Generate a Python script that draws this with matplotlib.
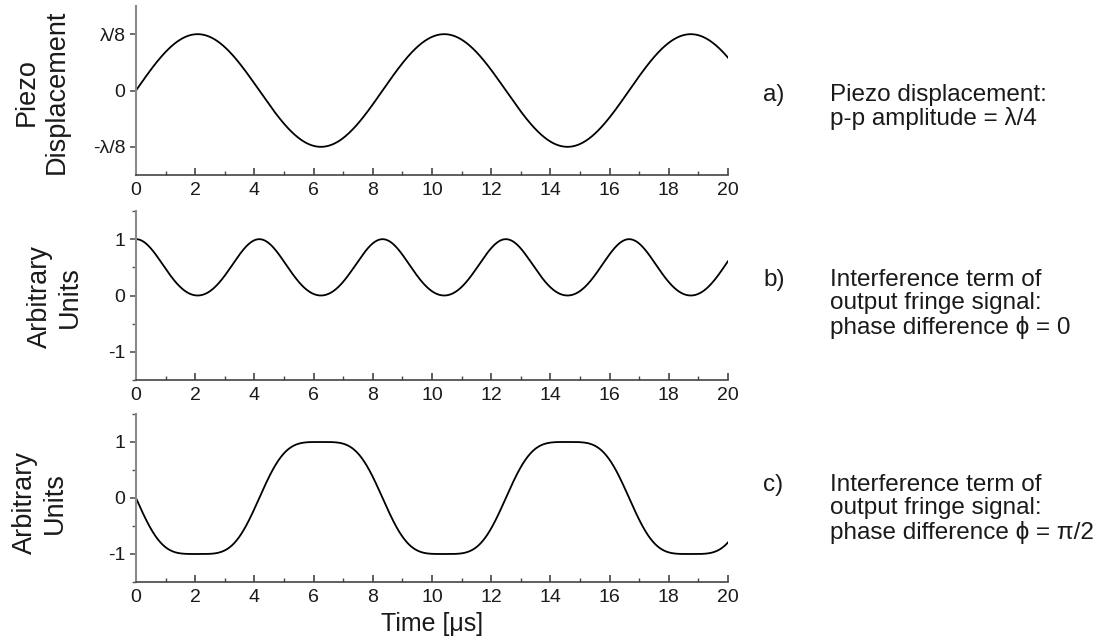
import numpy as np
import matplotlib
matplotlib.use('Agg')
import matplotlib.pyplot as plt
from matplotlib.ticker import MultipleLocator

plt.rcParams['font.family'] = ['Liberation Sans', 'DejaVu Sans']
plt.rcParams['axes.unicode_minus'] = False

# piezo drive and fringe model
TIME_START_US = 0
TIME_END_US = 20
PIEZO_PERIOD_US = 8.33
PIEZO_AMPLITUDE = 1 / 8          # in wavelengths
PHASE_DIFFERENCES = [0, np.pi / 2]

PANEL_TAGS = ['a)', 'b)', 'c)']
PANEL_NOTES = ['Piezo displacement:\np-p amplitude = λ/4',
               'Interference term of\noutput fringe signal:\nphase difference ϕ = 0',
               'Interference term of\noutput fringe signal:\nphase difference ϕ = π/2']
Y_LABELS = ['Piezo\nDisplacement', 'Arbitrary\nUnits', 'Arbitrary\nUnits']
DISP_TICKS = [-1, 0, 1]
DISP_TICK_LABELS = ['-λ/8', '0', 'λ/8']
AU_TICKS = [-1, 0, 1]
AU_TICK_LABELS = ['-1', '0', '1']
X_TICKS = list(range(0, 21, 2))

t = np.linspace(TIME_START_US, TIME_END_US, 2000)
disp = PIEZO_AMPLITUDE * np.sin(2 * np.pi * t / PIEZO_PERIOD_US)
signals = [disp / PIEZO_AMPLITUDE] + [np.cos(4 * np.pi * disp + ph) for ph in PHASE_DIFFERENCES]

W, H = 1112, 642
fig = plt.figure(figsize=(W / 100, H / 100), dpi=100)

# axes boxes in pixels: top, bottom
boxes = [(6, 175), (211, 380), (414, 582)]
x0, x1 = 136, 728
ylab_pos = [(42, 92), (55, 297), (40, 503)]
tag_y = [84, 269, 474]

for i, (top, bot) in enumerate(boxes):
    ax = fig.add_axes([x0 / W, 1 - bot / H, (x1 - x0) / W, (bot - top) / H])
    ax.plot(t, signals[i], color='black', lw=1.3)
    ax.set_xlim(TIME_START_US, TIME_END_US)
    ax.set_ylim(-1.5, 1.5)
    for s in ['top', 'right']:
        ax.spines[s].set_visible(False)
    ax.spines['left'].set_color('#8a8a8a')
    ax.spines['left'].set_linewidth(1.5)
    ax.spines['bottom'].set_color('#444444')
    ax.spines['bottom'].set_linewidth(1.2)

    ax.set_xticks(X_TICKS)
    ax.set_xticklabels([str(v) for v in X_TICKS])
    ax.xaxis.set_minor_locator(MultipleLocator(1))
    ax.tick_params(axis='x', which='major', direction='in', length=5, width=1.2,
                   color='#444444', labelsize=14, pad=5, labelcolor='#1a1a1a')
    ax.tick_params(axis='x', which='minor', direction='in', length=3, width=1.0,
                   color='#444444')
    if i == 0:
        ax.set_yticks(DISP_TICKS)
        ax.set_yticklabels(DISP_TICK_LABELS)
    else:
        ax.set_yticks(AU_TICKS)
        ax.set_yticklabels(AU_TICK_LABELS)
        ax.yaxis.set_minor_locator(MultipleLocator(0.5))
    ax.tick_params(axis='y', which='major', direction='out', length=4, width=1.2,
                   color='#555555', labelsize=14, labelcolor='#1a1a1a')
    ax.tick_params(axis='y', which='minor', direction='out', length=3, width=1.0,
                   color='#555555')

    lx, ly = ylab_pos[i]
    fig.text(lx / W, 1 - ly / H, Y_LABELS[i], rotation=90, ha='center', va='center',
             multialignment='center', fontsize=19.5, color='#1a1a1a', linespacing=1.2)

    fig.text(763 / W, 1 - tag_y[i] / H, PANEL_TAGS[i], ha='left', va='top',
             fontsize=17.5, color='#1a1a1a')
    fig.text(830 / W, 1 - tag_y[i] / H, PANEL_NOTES[i], ha='left', va='top',
             fontsize=17.5, color='#1a1a1a', linespacing=1.08)

fig.text((x0 + x1) / 2 / W, 1 - 624 / H, 'Time [μs]', ha='center', va='center',
         fontsize=18, color='#1a1a1a')

fig.savefig('out.png', dpi=100)
